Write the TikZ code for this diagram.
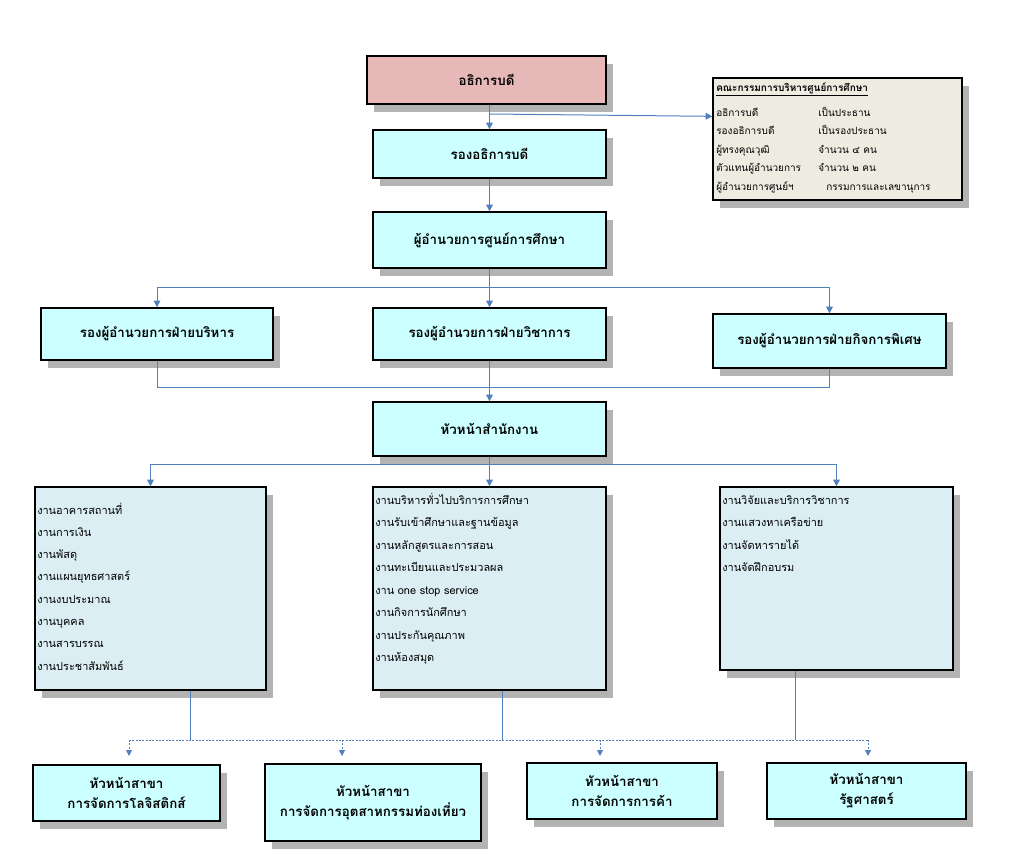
\documentclass[tikz,border=0pt]{standalone}
\usepackage{fontspec}
\newfontfamily\thai[Script=Thai]{Loma}
\usetikzlibrary{shadows,arrows.meta,calc}
\definecolor{pinkf}{HTML}{E6B9B8}
\definecolor{cyanf}{HTML}{CCFFFF}
\definecolor{listf}{HTML}{DBEEF4}
\definecolor{comf}{HTML}{EEECE1}
\definecolor{lnc}{HTML}{4F81BD}
\definecolor{shd}{HTML}{B3B3B3}
\begin{document}
\begin{tikzpicture}[x=0.75pt,y=-0.75pt,
 box/.style={draw=black, line width=1pt, inner sep=0pt, align=center,
   drop shadow={shadow xshift=5.5pt, shadow yshift=-6pt, fill=shd, opacity=1}},
 ttl/.style={box, font=\thai\bfseries\fontsize{10}{15}\selectfont},
 conn/.style={draw=lnc, line width=0.75pt, -{Triangle[width=5pt,length=5pt]}},
 plain/.style={draw=lnc, line width=0.75pt},
 dline/.style={draw=lnc, line width=0.75pt, dash pattern=on 1.5pt off 1pt},
 darr/.style={dline, -{Triangle[width=4.5pt,length=4.5pt]}},
 item/.style={font=\thai\fontsize{8.2}{10}\selectfont, anchor=base west, inner sep=0pt},
 citem/.style={font=\thai\fontsize{7.5}{10}\selectfont, anchor=base west, inner sep=0pt},
]
\useasboundingbox (0,0) rectangle (1009,867);

% top boxes
\node[ttl, fill=pinkf, minimum width=179.25pt, minimum height=36pt] (dir) at (486.5,80) {อธิการบดี};
\node[ttl, fill=cyanf, minimum width=174.75pt, minimum height=36pt] (vice) at (489.5,154) {รองอธิการบดี};
\node[ttl, fill=cyanf, minimum width=174.75pt, minimum height=42pt] (cdir) at (489.5,240) {ผู้อำนวยการศูนย์การศึกษา};

% committee box
\node[box, fill=comf, minimum width=186.75pt, minimum height=91.5pt] (com) at (837.5,139) {};
\node[citem, font=\thai\bfseries\fontsize{7.5}{10}\selectfont] (comt) at (716,91) {\underline{คณะกรรมการบริหารศูนย์การศึกษา}};
\node[citem] (c1l) at (716,116) {อธิการบดี};
\node[citem] (c1r) at (818,116) {เป็นประธาน};
\node[citem] (c2l) at (716,134.5) {รองอธิการบดี};
\node[citem] (c2r) at (818,134.5) {เป็นรองประธาน};
\node[citem] (c3l) at (716,153) {ผู้ทรงคุณวุฒิ};
\node[citem] (c3r) at (818,153) {จำนวน ๔ คน};
\node[citem] (c4l) at (716,171.5) {ตัวแทนผู้อำนวยการ};
\node[citem] (c4r) at (818,171.5) {จำนวน ๒ คน};
\node[citem] (c5l) at (716,190) {ผู้อำนวยการศูนย์ฯ};
\node[citem] (c5r) at (826,190) {กรรมการและเลขานุการ};

% second row
\node[ttl, fill=cyanf, minimum width=174pt, minimum height=39pt] (a1) at (157,334) {รองผู้อำนวยการฝ่ายบริหาร};
\node[ttl, fill=cyanf, minimum width=174.75pt, minimum height=39pt] (a2) at (489.5,334) {รองผู้อำนวยการฝ่ายวิชาการ};
\node[ttl, fill=cyanf, minimum width=174.75pt, minimum height=40.5pt] (a3) at (829.5,341) {รองผู้อำนวยการฝ่ายกิจการพิเศษ};

\node[ttl, fill=cyanf, minimum width=174.75pt, minimum height=40.5pt] (head) at (489.5,429) {หัวหน้าสำนักงาน};

% list boxes
\node[box, fill=listf, minimum width=173.25pt, minimum height=152.25pt] (l1) at (150.5,588.5) {};
\node[box, fill=listf, minimum width=174.75pt, minimum height=152.25pt] (l2) at (489.5,588.5) {};
\node[box, fill=listf, minimum width=174.75pt, minimum height=137.25pt] (l3) at (836.5,578.5) {};

\foreach \t [count=\i from 0] in {งานอาคารสถานที่,งานการเงิน,งานพัสดุ,งานแผนยุทธศาสตร์,งานงบประมาณ,งานบุคคล,งานสารบรรณ,งานประชาสัมพันธ์}
  \node[item] (la\i) at (37,514+22.3*\i) {\t};
\foreach \t [count=\i from 0] in {งานบริหารทั่วไปบริการการศึกษา,งานรับเข้าศึกษาและฐานข้อมูล,งานหลักสูตรและการสอน,งานทะเบียนและประมวลผล,งาน one stop service,งานกิจการนักศึกษา,งานประกันคุณภาพ,งานห้องสมุด}
  \node[item] (lb\i) at (375,504+22.5*\i) {\t};
\foreach \t [count=\i from 0] in {งานวิจัยและบริการวิชาการ,งานแสวงหาเครือข่าย,งานจัดหารายได้,งานจัดฝึกอบรม}
  \node[item] (lc\i) at (722,504+22.5*\i) {\t};

% bottom boxes
\node[ttl, fill=cyanf, minimum width=140.25pt, minimum height=42pt] (b1) at (126.5,793) {หัวหน้าสาขา\\การจัดการโลจิสติกส์};
\node[ttl, fill=cyanf, minimum width=162pt, minimum height=57.75pt] (b2) at (373,802.5) {หัวหน้าสาขา\\การจัดการอุตสาหกรรมท่องเที่ยว};
\node[ttl, fill=cyanf, minimum width=142.5pt, minimum height=42pt] (b3) at (622,791) {หัวหน้าสาขา\\การจัดการการค้า};
\node[ttl, fill=cyanf, minimum width=149.25pt, minimum height=42pt] (b4) at (866.5,791) {หัวหน้าสาขา\\รัฐศาสตร์};

% connectors top
\draw[conn] (vice.north |- dir.south) -- (vice.north);
\coordinate (j0) at (489.5,114);
\coordinate (cin) at ($(com.north west)+(0,39)$);
\draw[conn] (j0) -- (cin);
\draw[conn] (vice.south) -- (cdir.north);

\coordinate (h1) at ($(cdir.south)+(0,19)$);
\draw[conn] (cdir.south) -- (a2.north);
\draw[conn] (h1) -| (a1.north);
\draw[conn] (h1) -| (a3.north);

\draw[plain] (a1.south) -- ++(0,27) -| (a3.south);
\draw[conn] (a2.south) -- (head.north);

\coordinate (h2) at ($(head.south)+(0,8)$);
\draw[conn] (head.south) -- (l2.north);
\draw[conn] (h2) -| (l1.north);
\draw[conn] (h2) -| (l3.north);

% bottom bus
\coordinate (s1) at ($(l1.south)+(39.5,0)$);
\coordinate (s2) at ($(l2.south)+(12.5,0)$);
\coordinate (s3) at ($(l3.south)+(-41.5,0)$);
\coordinate (bus) at (500,740);
\coordinate (busL) at (129,740);
\coordinate (busR) at (868,740);
\draw[plain] (s1) -- (s1 |- bus);
\draw[plain] (s2) -- (s2 |- bus);
\draw[plain] (s3) -- (s3 |- bus);
\draw[dline] (busL) -- (busR);
\coordinate (m2) at (342,740);
\coordinate (m3) at (600,740);
\coordinate (t1) at (129,756);
\coordinate (t2) at (342,756);
\coordinate (t3) at (600,756);
\coordinate (t4) at (868,756);
\draw[darr] (busL) -- (t1);
\draw[darr] (m2) -- (t2);
\draw[darr] (m3) -- (t3);
\draw[darr] (busR) -- (t4);
\end{tikzpicture}
\end{document}
